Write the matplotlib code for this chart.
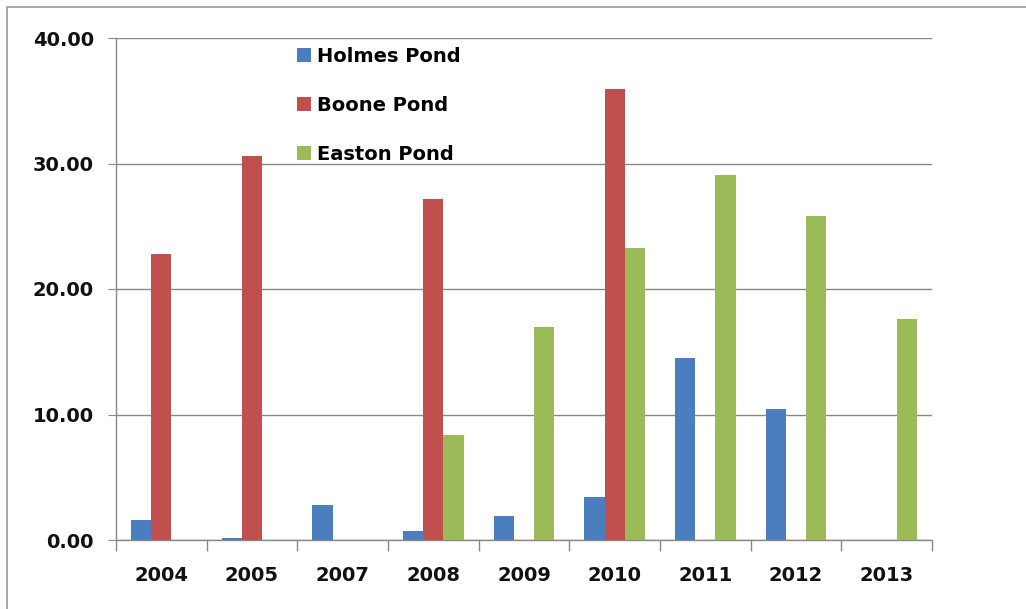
import matplotlib
matplotlib.use("Agg")
import matplotlib.pyplot as plt
import numpy as np
from matplotlib.patches import Rectangle

years = ["2004", "2005", "2007", "2008", "2009", "2010", "2011", "2012", "2013"]
holmes = [1.6, 0.15, 2.8, 0.75, 1.9, 3.4, 14.5, 10.4, 0.0]
boone = [22.8, 30.6, 0.0, 27.2, 0.0, 35.9, 0.0, 0.0, 0.0]
easton = [0.0, 0.0, 0.0, 8.4, 17.0, 23.3, 29.1, 25.8, 17.6]
series_names = ["Holmes Pond", "Boone Pond", "Easton Pond"]
colors = ["#4a7ebf", "#c0504d", "#9bbb59"]

fig = plt.figure(figsize=(10.26, 6.09), dpi=100)
ax = fig.add_axes([116/1026, 1-540/609, (932-116)/1026, (540-38)/609])

x = np.arange(len(years))
w = 1/4.5
for i, (vals, name, c) in enumerate(zip([holmes, boone, easton], series_names, colors)):
    ax.bar(x + (i-1)*w, vals, width=w, color=c, label=name, zorder=3)

ax.set_xlim(-0.5, len(years)-0.5)
ax.set_ylim(0, 40)
ax.set_yticks([0, 10, 20, 30, 40])
ax.set_yticklabels([f"{v:.2f}" for v in [0, 10, 20, 30, 40]])
ax.set_xticks(x)
ax.set_xticklabels(years)
ax.set_xticks(np.arange(-0.5, len(years)), minor=True)
ax.tick_params(axis='x', which='major', length=0, pad=19, labelsize=14)
ax.tick_params(axis='x', which='minor', length=8, color='#888888', width=1)
ax.tick_params(axis='y', length=6, color='#888888', pad=10, labelsize=14)
for lab in ax.get_xticklabels() + ax.get_yticklabels():
    lab.set_fontweight('bold')
    lab.set_color('#111111')

ax.grid(axis='y', color='#888888', linewidth=1, zorder=0)
for s in ['top', 'right']:
    ax.spines[s].set_visible(False)
for s in ['left', 'bottom']:
    ax.spines[s].set_color('#888888')
    ax.spines[s].set_linewidth(1)

leg = fig.legend(loc='upper left', bbox_to_anchor=(279/1026, 1-29/609), frameon=False,
                 prop={'size': 14, 'weight': 'bold'}, labelspacing=1.55,
                 handlelength=0.75, handleheight=0.75, handletextpad=0.3)

fig.patches.append(Rectangle((7/1026, -0.1), 1.2, 1-7/609+0.1, transform=fig.transFigure,
                             fill=False, edgecolor='#999999', linewidth=1.2))

fig.savefig("out.png", dpi=100)
